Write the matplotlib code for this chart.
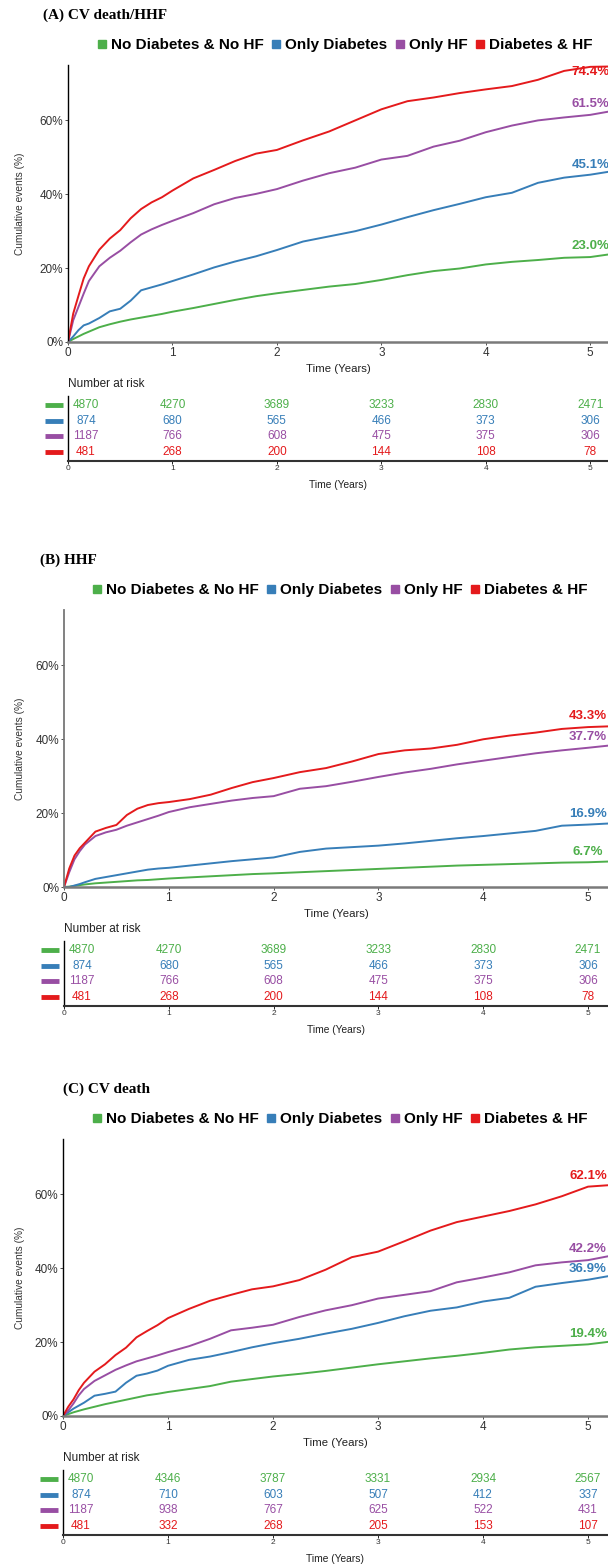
import matplotlib
matplotlib.use('Agg')
import matplotlib.pyplot as plt
import matplotlib.transforms as mtransforms
from matplotlib.lines import Line2D

W, H = 608, 1566
SANS = ['Liberation Sans', 'DejaVu Sans']
SERIF = ['Liberation Serif', 'DejaVu Serif']
plt.rcParams['font.family'] = SANS

groups = ['No Diabetes & No HF', 'Only Diabetes', 'Only HF', 'Diabetes & HF']
colors = ['#4DAF4A', '#377EB8', '#984EA3', '#E41A1C']

years = [0, 0.05, 0.1, 0.15, 0.2, 0.3, 0.4, 0.5, 0.6, 0.7, 0.8, 0.9, 1.0, 1.2, 1.4, 1.6,
         1.8, 2.0, 2.25, 2.5, 2.75, 3.0, 3.25, 3.5, 3.75, 4.0, 4.25, 4.5, 4.75, 5.0, 5.2]

# (A) CV death/HHF, cumulative events (%)
a_green = [0, 0.8, 1.5, 2.2, 2.8, 4.0, 4.8, 5.5, 6.1, 6.6, 7.1, 7.6, 8.2, 9.2, 10.3, 11.4,
           12.4, 13.2, 14.1, 15.0, 15.7, 16.8, 18.1, 19.2, 19.9, 21.0, 21.7, 22.2, 22.8, 23.0, 23.8]
a_blue = [0, 1.5, 3.2, 4.5, 5.0, 6.5, 8.3, 9.0, 11.2, 14.0, 14.8, 15.6, 16.5, 18.3, 20.2, 21.8,
          23.2, 24.9, 27.2, 28.6, 30.0, 31.8, 33.8, 35.7, 37.4, 39.2, 40.4, 43.1, 44.5, 45.3, 46.2]
a_purple = [0, 5.9, 9.5, 13.1, 16.5, 20.5, 22.8, 24.7, 27.0, 29.1, 30.5, 31.7, 32.8, 34.9, 37.3, 39.0,
            40.1, 41.4, 43.7, 45.7, 47.2, 49.4, 50.4, 52.9, 54.5, 56.8, 58.6, 60.0, 60.8, 61.5, 62.5]
a_red = [0, 7.7, 12.5, 17.2, 20.5, 25.0, 28.0, 30.3, 33.5, 36.0, 37.8, 39.2, 41.0, 44.3, 46.6, 49.0,
         51.0, 52.0, 54.6, 57.0, 60.0, 63.0, 65.2, 66.2, 67.4, 68.4, 69.3, 71.0, 73.4, 74.5, 74.6]
a_labels = ['23.0%', '45.1%', '61.5%', '74.4%']

# (B) HHF
b_green = [0, 0.1, 0.3, 0.5, 0.7, 1.0, 1.2, 1.4, 1.6, 1.8, 1.9, 2.1, 2.3, 2.6, 2.9, 3.2,
           3.5, 3.7, 4.0, 4.3, 4.6, 4.9, 5.2, 5.5, 5.8, 6.0, 6.2, 6.4, 6.6, 6.7, 6.9]
b_blue = [0, 0, 0.4, 0.8, 1.3, 2.2, 2.7, 3.2, 3.7, 4.2, 4.7, 5.0, 5.2, 5.8, 6.4, 7.0,
          7.5, 8.0, 9.5, 10.4, 10.8, 11.2, 11.8, 12.5, 13.2, 13.8, 14.5, 15.2, 16.6, 16.9, 17.2]
b_purple = [0, 4.0, 7.5, 9.7, 11.5, 13.8, 14.8, 15.5, 16.6, 17.5, 18.4, 19.3, 20.3, 21.6, 22.5, 23.4,
            24.1, 24.6, 26.6, 27.3, 28.5, 29.8, 31.0, 32.0, 33.2, 34.2, 35.2, 36.2, 37.0, 37.7, 38.3]
b_red = [0, 5.0, 8.5, 10.5, 12.0, 15.0, 16.0, 16.8, 19.5, 21.2, 22.2, 22.7, 23.0, 23.8, 25.0, 26.8,
         28.4, 29.5, 31.1, 32.2, 34.0, 36.0, 37.0, 37.5, 38.5, 40.0, 41.0, 41.8, 42.8, 43.3, 43.5]
b_labels = ['6.7%', '16.9%', '37.7%', '43.3%']

# (C) CV death
c_green = [0, 0.5, 1.0, 1.4, 1.8, 2.5, 3.2, 3.8, 4.4, 5.0, 5.6, 6.0, 6.5, 7.3, 8.1, 9.3,
           10.0, 10.7, 11.4, 12.2, 13.1, 14.0, 14.8, 15.6, 16.3, 17.1, 18.0, 18.6, 19.0, 19.4, 20.1]
c_blue = [0, 1.0, 2.0, 2.8, 3.6, 5.5, 6.0, 6.6, 9.0, 10.9, 11.5, 12.3, 13.6, 15.2, 16.1, 17.3,
          18.6, 19.7, 20.9, 22.3, 23.6, 25.2, 27.0, 28.5, 29.4, 31.0, 32.0, 35.0, 36.0, 36.9, 37.9]
c_purple = [0, 1.5, 3.4, 5.6, 7.3, 9.5, 11.0, 12.5, 13.7, 14.8, 15.6, 16.4, 17.3, 18.9, 20.9, 23.2,
            23.9, 24.7, 26.8, 28.6, 30.0, 31.8, 32.8, 33.8, 36.2, 37.5, 38.9, 40.8, 41.6, 42.2, 43.3]
c_red = [0, 2.5, 4.5, 7.0, 9.0, 12.0, 14.0, 16.5, 18.5, 21.3, 23.0, 24.6, 26.5, 29.0, 31.2, 32.8,
         34.3, 35.1, 36.8, 39.6, 43.0, 44.5, 47.3, 50.2, 52.5, 54.0, 55.5, 57.3, 59.5, 62.1, 62.5]
c_labels = ['19.4%', '36.9%', '42.2%', '62.1%']

# number at risk
risk_years = [0, 1, 2, 3, 4, 5]
ab_risk_green = [4870, 4270, 3689, 3233, 2830, 2471]
ab_risk_blue = [874, 680, 565, 466, 373, 306]
ab_risk_purple = [1187, 766, 608, 475, 375, 306]
ab_risk_red = [481, 268, 200, 144, 108, 78]
c_risk_green = [4870, 4346, 3787, 3331, 2934, 2567]
c_risk_blue = [874, 710, 603, 507, 412, 337]
c_risk_purple = [1187, 938, 767, 625, 522, 431]
c_risk_red = [481, 332, 268, 205, 153, 107]

fig = plt.figure(figsize=(W / 100, H / 100), dpi=100)


def add_ax(left, top, right, bottom):
    return fig.add_axes([left / W, 1 - bottom / H, (right - left) / W, (bottom - top) / H])


def ftext(x, y, s, **kw):
    fig.text(x / W, 1 - y / H, s, **kw)


def draw_panel(title, title_x, legend_x, left, top, xmax, curves, labels, risk, ycol):
    bottom = top + 277
    # title and legend
    ftext(title_x, top - 50, title, family=SERIF, fontweight='bold', fontsize=11,
          ha='left', va='center')
    handles = [Line2D([], [], ls='none', marker='s', markersize=6, color=c) for c in colors]
    fig.legend(handles, groups, loc='center', bbox_to_anchor=(legend_x / W, 1 - (top - 20) / H),
               ncol=4, frameon=False, handlelength=0.6, handletextpad=0.3, columnspacing=0.5,
               prop={'family': SANS, 'weight': 'bold', 'size': 11})

    # curves
    ax = add_ax(left, top, W, bottom)
    for vals, c in zip(curves, colors):
        ax.plot(years, vals, color=c, lw=1.4)
    for vals, lab, c in zip(curves, labels, colors):
        v = float(lab.rstrip('%'))
        ax.text(5, min(v + 2.9, 73), lab, color=c, fontweight='bold', fontsize=9.5,
                ha='center', va='center', clip_on=False)
    ax.set_xlim(0, xmax)
    ax.set_ylim(0, 75)
    ax.set_xticks(range(6))
    ax.set_yticks([0, 20, 40, 60])
    ax.set_yticklabels(['0%', '20%', '40%', '60%'])
    for s in ['top', 'right']:
        ax.spines[s].set_visible(False)
    ax.spines['left'].set_color(ycol)
    ax.spines['left'].set_linewidth(1.0 if ycol == 'black' else 1.3)
    ax.spines['bottom'].set_color('#7a7a7a')
    ax.spines['bottom'].set_linewidth(1.8)
    ax.tick_params(length=2.5, width=0.6, color='#333333', labelsize=8.5,
                   labelcolor='#333333', pad=1)
    ftext((left + W) / 2, bottom + 27, 'Time (Years)', fontsize=8.2, color='#222222',
          ha='center', va='center')
    ftext(20, (top + bottom) / 2, 'Cumulative events (%)', fontsize=7.3, color='#333333',
          rotation=90, ha='center', va='center')

    # number at risk table
    ftext(left, bottom + 42, 'Number at risk', fontsize=8.5, color='#222222',
          ha='left', va='center')
    rt = add_ax(left, bottom + 54, W, bottom + 119)
    rt.set_xlim(0, xmax)
    rt.set_ylim(0.43, 4.57)
    first = mtransforms.offset_copy(rt.transData, fig=fig, x=18, y=0, units='dots')
    mark = mtransforms.blended_transform_factory(rt.transAxes, rt.transData)
    for row, (counts, c) in enumerate(zip(risk, colors)):
        ypos = 4 - row
        for t, n in zip(risk_years, counts):
            rt.text(t, ypos, str(n), color=c, fontsize=8.5, ha='center', va='center',
                    transform=first if t == 0 else rt.transData)
        rt.plot([-0.043, -0.009], [ypos, ypos], color=c, lw=3.5, transform=mark,
                clip_on=False, solid_capstyle='butt')
    rt.set_yticks([])
    rt.set_xticks(risk_years)
    for s in ['top', 'right']:
        rt.spines[s].set_visible(False)
    rt.spines['left'].set_linewidth(1.0)
    rt.spines['bottom'].set_linewidth(1.5)
    rt.spines['bottom'].set_color('#333333')
    rt.tick_params(axis='x', length=2, width=0.6, labelsize=6, labelcolor='#333333', pad=1)
    ftext((left + W) / 2, bottom + 143, 'Time (Years)', fontsize=7.4, color='#222222',
          ha='center', va='center')


draw_panel('(A) CV death/HHF', 43, 345, 68, 65, 5.17,
           [a_green, a_blue, a_purple, a_red], a_labels,
           [ab_risk_green, ab_risk_blue, ab_risk_purple, ab_risk_red], 'black')
draw_panel('(B) HHF', 40, 340, 64, 610, 5.19,
           [b_green, b_blue, b_purple, b_red], b_labels,
           [ab_risk_green, ab_risk_blue, ab_risk_purple, ab_risk_red], '#777777')
draw_panel('(C) CV death', 63, 340, 63, 1139, 5.19,
           [c_green, c_blue, c_purple, c_red], c_labels,
           [c_risk_green, c_risk_blue, c_risk_purple, c_risk_red], 'black')

fig.savefig('out.png', dpi=100)
